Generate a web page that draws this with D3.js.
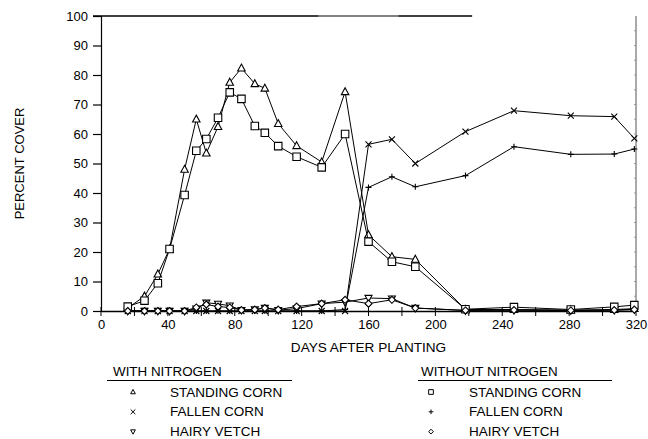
<!DOCTYPE html>
<html>
<head>
<meta charset="utf-8">
<script src="https://cdn.jsdelivr.net/npm/d3@7/dist/d3.min.js"></script>
<style>
  html, body { margin: 0; padding: 0; background: #fff; }
  svg { display: block; }
  text { font-family: "Liberation Sans", Arial, Helvetica, sans-serif; fill: #000; }
</style>
</head>
<body>
<svg id="chart" width="648" height="439"></svg>
<script>
// ---- data ----
const days = [16, 26, 34, 41, 50, 57, 63, 70, 77, 84, 92, 98, 106, 117, 132, 146, 160, 174, 188, 218, 247, 281, 307, 319];

const standingN   = [1, 5, 12.5, 21, 48, 65, 53.5, 62.5, 77.5, 82.3, 77, 75.5, 63.5, 56, 50.5, 74.3, 25.8, 18.4, 17.5, 0.5, 0.5, 0.3, 0.5, 0.8];
const fallenN     = [0, 0, 0, 0, 0, 0, 0, 0, 0, 0, 0, 0, 0, 0, 0, 0, 56.5, 58.2, 50, 60.8, 67.9, 66.2, 65.9, 58.5];
const vetchN      = [0, 0, 0, 0, 0, 0.8, 2.8, 2.4, 1.8, 0.3, 0.5, 1, 0.3, 0.8, 2.5, 3, 4.4, 4.2, 1, 0.2, 0.3, 0.2, 0.3, 0.5];

const standingNoN = [1.5, 3.5, 9.4, 21, 39.3, 54.3, 58.3, 65.5, 74.1, 71.9, 62.7, 60.4, 55.9, 52.3, 48.7, 60, 23.5, 16.7, 15, 0.6, 1.3, 0.5, 1.4, 2];
const fallenNoN   = [0, 0, 0, 0, 0, 0, 0, 0, 0, 0, 0, 0, 0, 0, 0, 0.5, 41.9, 45.5, 42.1, 45.9, 55.7, 53.1, 53.2, 54.9];
const vetchNoN    = [0, 0, 0, 0, 0, 1.2, 2.2, 1.5, 1.2, 0.3, 0.5, 1, 0.5, 1.5, 2.5, 3.8, 2.5, 3.8, 1, 0.2, 0.3, 0.2, 0.3, 0.5];

const xTicks = [0, 40, 80, 120, 160, 200, 240, 280, 320];
const yTicks = [0, 10, 20, 30, 40, 50, 60, 70, 80, 90, 100];

const groupTitles = ["WITH NITROGEN", "WITHOUT NITROGEN"];
const seriesNames = ["STANDING CORN", "FALLEN CORN", "HAIRY VETCH"];

// ---- custom marker shapes ----
const symTriUp = { draw(c, s) { const r = Math.sqrt(s) / 2; c.moveTo(0, -r * 1.1); c.lineTo(r, r * 0.75); c.lineTo(-r, r * 0.75); c.closePath(); } };
const symTriDown = { draw(c, s) { const r = Math.sqrt(s) / 2; c.moveTo(0, r * 1.1); c.lineTo(r, -r * 0.75); c.lineTo(-r, -r * 0.75); c.closePath(); } };
const symSquare = { draw(c, s) { const r = Math.sqrt(s) / 2; c.rect(-r, -r, 2 * r, 2 * r); } };
const symDiamond = { draw(c, s) { const r = Math.sqrt(s) / 2; c.moveTo(0, -r); c.lineTo(r, 0); c.lineTo(0, r); c.lineTo(-r, 0); c.closePath(); } };
const symTimes = { draw(c, s) { const r = Math.sqrt(s) / 2; c.moveTo(-r, -r); c.lineTo(r, r); c.moveTo(r, -r); c.lineTo(-r, r); } };
const symPlus = { draw(c, s) { const r = Math.sqrt(s) / 2; c.moveTo(-r, 0); c.lineTo(r, 0); c.moveTo(0, -r); c.lineTo(0, r); } };

const series = [
  { vals: standingN,   sym: symTriUp,   size: 56 },
  { vals: fallenN,     sym: symTimes,   size: 36 },
  { vals: vetchN,      sym: symTriDown, size: 49 },
  { vals: standingNoN, sym: symSquare,  size: 56 },
  { vals: fallenNoN,   sym: symPlus,    size: 36 },
  { vals: vetchNoN,    sym: symDiamond, size: 49 }
];

// ---- layout ----
const svg = d3.select("#chart");
const m = { left: 101, top: 16, right: 12, bottom: 128 };
const W = 648 - m.left - m.right;  // 535
const H = 439 - m.top - m.bottom;  // 295

const x = d3.scaleLinear().domain([0, 320]).range([m.left, m.left + W]);
const y = d3.scaleLinear().domain([0, 100]).range([m.top + H, m.top]);

const g = svg.append("g");

// frame: right border, partial top border
g.append("line").attr("x1", x(320)).attr("x2", x(320)).attr("y1", y(100)).attr("y2", y(0))
  .attr("stroke", "#555").attr("stroke-width", 1);
g.append("line").attr("x1", m.left - 8).attr("x2", x(222)).attr("y1", y(100)).attr("y2", y(100))
  .attr("stroke", "#000").attr("stroke-width", 1.4);
g.append("line").attr("x1", x(130)).attr("x2", x(178)).attr("y1", y(100)).attr("y2", y(100))
  .attr("stroke", "#999").attr("stroke-width", 1.4);
// faint minor ticks on right border
g.selectAll(".rt").data(d3.range(5, 100, 5)).join("line")
  .attr("x1", x(320) - 2).attr("x2", x(320)).attr("y1", d => y(d)).attr("y2", d => y(d))
  .attr("stroke", "#888").attr("stroke-width", 0.8);

// y axis
const yAxis = d3.axisLeft(y).tickValues(yTicks).tickSize(8).tickPadding(5);
const ya = g.append("g").attr("transform", `translate(${m.left},0)`).call(yAxis);
ya.select(".domain").attr("stroke", "#000").attr("stroke-width", 1.2);
ya.selectAll(".tick line").attr("stroke", "#000").attr("stroke-width", 1.2);
ya.selectAll(".tick text").style("font-size", "13px").style("font-family", "'Liberation Sans', Arial, sans-serif").attr("fill", "#000");

// x axis
const xAxis = d3.axisBottom(x).tickValues(xTicks).tickSize(0).tickPadding(9);
const xa = g.append("g").attr("transform", `translate(0,${y(0)})`).call(xAxis);
xa.select(".domain").attr("stroke", "#000").attr("stroke-width", 1.6);
xa.selectAll(".tick text").style("font-size", "13px").style("font-family", "'Liberation Sans', Arial, sans-serif").attr("fill", "#000");
g.selectAll(".xt").data(d3.range(0, 321, 20)).join("line")
  .attr("x1", d => x(d)).attr("x2", d => x(d)).attr("y1", y(0) - 4).attr("y2", y(0) + 5)
  .attr("stroke", "#000").attr("stroke-width", 1);

// axis titles
g.append("text").attr("x", x(160)).attr("y", 352).attr("text-anchor", "middle")
  .style("font-size", "13.6px").text("DAYS AFTER PLANTING");
g.append("text").attr("transform", `translate(24,${y(50)}) rotate(-90)`).attr("text-anchor", "middle")
  .style("font-size", "13px").text("PERCENT COVER");

// lines and markers
const line = d3.line().x(d => x(d[0])).y(d => y(d[1]));
series.forEach(s => {
  const pts = days.map((d, i) => [d, s.vals[i]]);
  g.append("path").datum(pts).attr("d", line).attr("fill", "none")
    .attr("stroke", "#000").attr("stroke-width", 1);
  g.selectAll(null).data(pts).join("path")
    .attr("transform", d => `translate(${x(d[0])},${y(d[1])})`)
    .attr("d", d3.symbol().type(s.sym).size(s.size))
    .attr("fill", "#fff").attr("stroke", "#000").attr("stroke-width", 1.1);
});

// legend
const legendGroups = [
  { title: groupTitles[0], tx: 113, ux1: 107, ux2: 292, mx: 133, lx: 170, syms: [symTriUp, symTimes, symTriDown] },
  { title: groupTitles[1], tx: 421, ux1: 418, ux2: 612, mx: 431, lx: 469, syms: [symSquare, symPlus, symDiamond] }
];
legendGroups.forEach(lg => {
  g.append("text").attr("x", lg.tx).attr("y", 376).style("font-size", "13.4px").text(lg.title);
  g.append("line").attr("x1", lg.ux1).attr("x2", lg.ux2).attr("y1", 380.5).attr("y2", 380.5)
    .attr("stroke", "#000").attr("stroke-width", 1.2);
  seriesNames.forEach((nm, i) => {
    const yy = 392 + i * 19.8;
    g.append("path").attr("transform", `translate(${lg.mx},${yy})`)
      .attr("d", d3.symbol().type(lg.syms[i]).size(22))
      .attr("fill", "#fff").attr("stroke", "#000").attr("stroke-width", 1);
    g.append("text").attr("x", lg.lx).attr("y", yy + 4.5).style("font-size", "13.5px").text(nm);
  });
});
</script>
</body>
</html>
